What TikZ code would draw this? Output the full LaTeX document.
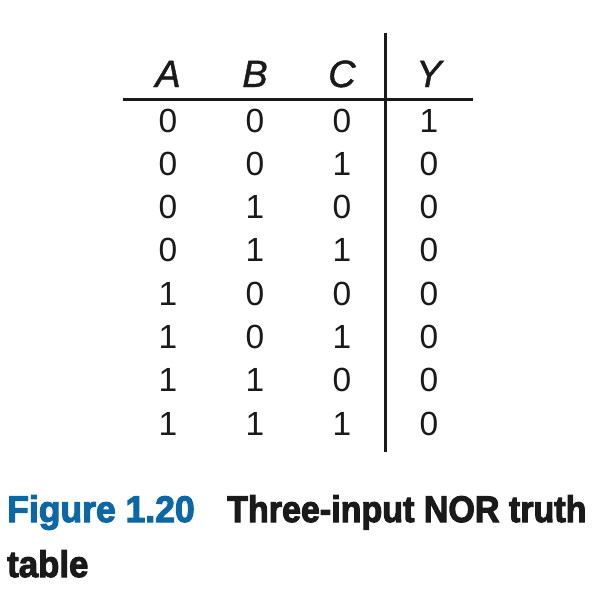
\documentclass[tikz,border=0pt]{standalone}
\usepackage{fontspec}
\setmainfont{Liberation Sans}
\newfontfamily\capfont{Liberation Sans}[BoldFeatures={FakeBold=3}]
\newfontfamily\hdrfont{Liberation Sans}[ItalicFeatures={FakeBold=1.2}]
\usepackage{graphicx}
\definecolor{figblue}{HTML}{0B67A5}
\definecolor{ink}{HTML}{1A1A1A}
\tikzset{
  hdr/.style={anchor=base,inner sep=0pt,font=\fontsize{38}{40}\hdrfont\itshape,text=ink},
  dig/.style={anchor=base,inner sep=0pt,font=\fontsize{33.5}{36}\selectfont,text=ink},
  rulestyle/.style={line width=3pt,draw=ink},
  captxt/.style={anchor=base west,inner sep=0pt,font=\fontsize{37}{40}\capfont\bfseries},
}
\begin{document}
\begin{tikzpicture}[x=1pt,y=-1pt]
\useasboundingbox (0,0) rectangle (604,606);
% header
\node[hdr] (hA) at (168,87) {A};
\node[hdr] (hB) at (255,87) {B};
\node[hdr] (hC) at (342,87) {C};
\node[hdr] (hY) at (429,87) {Y};
% rules
\coordinate (hl) at (123,99);
\coordinate (hr) at (473,99);
\coordinate (vt) at (385,33);
\coordinate (vb) at (385,452);
\draw[rulestyle] (hl) -- (hr);
\draw[rulestyle] (vt) -- (vb);
% rows
\foreach \a/\b/\c/\y [count=\i from 0] in {0/0/0/1,0/0/1/0,0/1/0/0,0/1/1/0,1/0/0/0,1/0/1/0,1/1/0/0,1/1/1/0}{
  \pgfmathsetmacro{\yy}{132+43.3*\i}
  \node[dig] (a\i) at (168,\yy) {\a};
  \node[dig] (b\i) at (255,\yy) {\b};
  \node[dig] (c\i) at (342,\yy) {\c};
  \node[dig] (y\i) at (429,\yy) {\y};
}
% caption
\node[captxt,text=figblue] (fig) at (7,522) {\scalebox{0.96}[1]{Figure 1.20}};
\node[captxt,text=ink] (t1) at (227,522) {\scalebox{0.92}[1]{Three-input NOR truth}};
\node[captxt,text=ink] (t2) at (7,577) {\scalebox{0.94}[1]{table}};
\end{tikzpicture}
\end{document}
